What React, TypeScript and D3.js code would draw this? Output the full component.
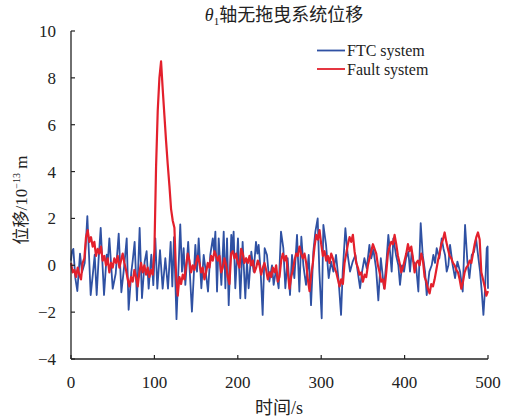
import React from 'react';
import * as d3 from 'd3';

const xTicks = [0, 100, 200, 300, 400, 500];
const yTicks = [-4, -2, 0, 2, 4, 6, 8, 10];
const seriesNames = ['FTC system', 'Fault system'];

// FTC system: [time s, displacement 1e-13 m]
const ftcSeries: [number, number][] = [
  [0, 0.2], [1.2, 0.6], [2.8, 0.7], [5.2, -0.55], [7.6, -1.1], [10.8, 0.5], [13.2, -0.3], [16.4, 0.1],
  [19.6, 2.1], [21.6, 0.45], [23.6, -1.27], [26.4, -0.3], [28.4, 0.45], [30.8, -1.27], [33, 0.2], [35.6, 1.6],
  [39.6, -1.27], [42.8, 0.45], [44.2, 0.2], [46, 1.15], [50, -1.0], [53.6, -0.35], [57.2, 1.35], [60.4, -1.15],
  [63.6, -0.1], [66.8, 1.15], [69.1, -1.9], [72.3, -0.3], [74, 0.2], [76.3, 1.0], [79.1, -1.5], [82.3, 1.6],
  [85.1, -1.4], [88.3, 0.15], [90.7, 0.6], [93.1, -1.0], [96.3, 0.45], [98.7, -0.85], [101.1, 1.15], [103.5, -1.0],
  [106.7, 0.65], [109.9, -1.0], [113.1, 0.3], [116.3, -1.0], [119.5, 1.0], [121.5, -0.9], [123.5, 1.2], [126.5, -2.3],
  [131, 1.75], [133.1, -0.27], [135.1, 0.73], [137.1, -0.84], [140.5, 1.0], [145, -1.98], [149.1, 0.87], [151.1, -0.27],
  [153.1, 1.15], [156.3, -0.98], [159.1, 0.44], [161.1, -0.13], [164.3, -1.12], [167, 0.44], [170, 1.15], [171.5, 0.6],
  [173.1, 1.44], [175.1, -1.12], [177.1, 1.15], [180.3, -0.84], [183.1, 1.44], [185.1, -0.98], [187.1, 1.15], [189.1, -1.7],
  [192.2, 1.3], [193.6, 0.6], [195, 1.44], [197, -0.98], [200.2, 1.15], [203, -1.41], [205.8, 1.0], [209, -1.41],
  [211, 0.16], [213, -0.98], [216.2, 0.58], [219, -0.27], [221.8, 1.0], [223.5, 0.5], [225, 0.87], [227.4, -0.27],
  [229.8, -2.12], [232.2, 0.73], [235, 0.44], [237.8, -0.7], [241, 0.0], [243, -0.84], [245.8, -0.2], [249, -0.98],
  [251.8, 1.44], [254.6, 0.73], [257, -0.98], [259.8, 0.3], [262.6, -1.27], [265, 0.44], [267.8, -0.55], [271, 1.3],
  [273.8, -1.12], [276.2, 1.22], [278.6, 0.0], [281.8, -0.84], [285, 0.44], [287.8, -1.7], [290.6, 0.58], [293, 1.44],
  [295.8, 2.0], [297.8, -0.27], [300.6, -2.26], [302.6, 1.72], [305.8, 0.87], [309, -0.55], [311.8, 0.16], [314.6, -0.27],
  [317.8, 0.44], [321, -0.7], [323.8, -2.12], [325.8, -0.27], [329, 1.58], [331.8, 0.44], [334.6, -0.27], [337.8, 0.16],
  [341, 0.44], [343.8, -0.27], [346.6, -0.98], [349, -0.27], [351.8, 0.3], [354.6, -0.13], [357.8, 0.87], [360, 0.3],
  [362.5, 0.68], [365.8, -0.13], [368.5, -1.5], [371.5, 0.3], [375.3, -0.98], [378.5, 0.3], [380.5, 1.3], [382.5, 0.58],
  [384.5, -0.27], [386.5, 1.15], [389.7, 0.44], [392.5, 0.0], [394.5, -0.84], [396.9, 0.0], [399.3, -0.27], [401.7, 0.3],
  [404.5, 0.58], [406.5, -0.27], [408.5, 0.58], [410.5, 0.16], [413.7, 0.0], [416.5, -1.12], [419.3, 1.8], [421.7, 0.44],
  [424.5, -0.27], [426.5, -1.27], [429.7, -0.27], [432.5, 0.0], [434.5, 0.44], [436.5, 0.1], [438.5, 0.73], [441.7, 0.3],
  [444.5, 1.15], [446.5, 0.73], [448.5, 0.44], [450.5, -0.27], [452.5, 0.0], [454.5, 0.87], [457.7, 0.0], [460.5, -0.55],
  [463.3, 0.16], [466.5, -0.27], [469.7, -1.12], [472.5, 1.72], [475.3, 0.16], [477.7, -0.55], [480.5, 0.44], [483.3, 0.58],
  [485.7, 1.15], [488.5, 0.3], [490.5, -0.27], [492.5, -1.12], [494.5, -2.12], [496.5, -0.98], [498.5, 0.73], [499.5, 0.8],
  [500, -1.0],
];

// Fault system: one value every 2 s from t = 0 to 500
const faultStep = 2;
const faultValues: number[] = [
  0.1, -0.3, -0.2, -0.5, -0.1, -0.4, -0.6, 0.1, 0.3, 1.2, // 0-18
  1.5, 1.0, 1.2, 0.8, 1.0, 0.4, 0.7, 0.5, 0.8, 0.2, // 20-38
  0.4, 0.0, 0.3, -0.3, 0.1, -0.1, 0.3, 0.1, 0.4, -0.1, // 40-58
  0.2, 0.5, 0.1, -0.2, -0.6, -0.9, -0.5, -0.7, -0.2, -0.5, // 60-78
  -0.9, -0.3, 0.1, -0.3, 0.0, -0.4, -0.1, -0.5, -0.2, -0.4, // 80-98
  0.6, 4.2, 6.6, 8.0, 8.7, 7.5, 6.4, 5.3, 4.3, 3.4, // 100-118
  2.4, 1.9, 1.6, -0.4, -1.3, -0.5, -0.8, -0.4, -0.6, 0.0, // 120-138
  0.5, 0.2, -0.3, 0.0, -0.2, 0.1, 0.4, 0.1, -0.3, -0.1, // 140-158
  -0.6, -0.3, 0.1, -0.1, 0.4, 0.2, 0.6, 0.4, 0.2, 0.4, // 160-178
  -0.3, -0.1, 0.3, 0.0, -0.5, -0.8, 0.5, 0.6, 0.3, 0.5, // 180-198
  0.1, -0.1, 0.7, 0.5, 0.1, 0.3, 0.1, 0.4, 0.0, 0.2, // 200-218
  -0.3, -0.1, 0.2, 0.0, -0.4, -0.1, 0.1, -0.2, -0.6, -0.3, // 220-238
  -0.5, -0.1, -0.3, 0.0, -0.7, -0.5, 0.2, 0.5, 0.2, 0.4, // 240-258
  -0.3, -1.0, -0.5, -0.2, 0.2, 0.5, 0.4, 0.8, 0.5, 0.3, // 260-278
  0.5, 0.1, -0.6, -1.1, -0.4, 0.1, 0.8, 1.3, 1.1, 1.5, // 280-298
  0.9, 0.4, 0.6, 0.2, 0.4, 0.1, 0.5, 0.3, -0.1, -0.3, // 300-318
  -0.6, -0.9, -0.6, -0.8, 0.1, 0.5, 0.9, 1.2, 1.0, 1.3, // 320-338
  0.6, 0.1, -0.1, -0.4, -0.3, -0.7, -0.4, -0.5, 0.0, 0.3, // 340-358
  0.6, 0.9, 0.7, 0.5, 0.0, -0.3, -0.7, -0.6, -1.0, -0.3, // 360-378
  0.5, 0.8, 1.0, 0.9, 1.3, 0.9, 0.4, 0.1, -0.3, -0.1, // 380-398
  0.2, 0.5, 0.9, 0.6, 0.8, 0.3, -0.3, 0.1, 0.2, 0.0, // 400-418
  0.5, 0.2, -0.5, -0.7, -1.0, -1.2, -0.8, -0.9, -0.6, -0.2, // 420-438
  0.2, 0.5, 0.9, 1.1, 1.4, 1.0, 0.7, 0.4, 0.3, 0.1, // 440-458
  0.0, -0.2, -0.3, -0.6, -1.0, -0.7, -0.3, -0.1, 0.0, 0.2, // 460-478
  0.1, 0.5, 0.9, 1.2, 1.4, 1.1, -0.3, -0.6, -0.9, -1.3, // 480-498
  -1.1, // 500
];

const BLUE = '#2f51a3';
const RED = '#e3202c';
const SERIF = '"Liberation Serif", "Times New Roman", serif';
const CJK = '"Noto Sans CJK SC", sans-serif';

export default function App() {
  const W = 505;
  const H = 420;
  const x = d3.scaleLinear().domain([0, 500]).range([71, 488]);
  const y = d3.scaleLinear().domain([-4, 10]).range([359, 31]);
  const line = d3.line<[number, number]>().x(d => x(d[0])).y(d => y(d[1]));
  const faultSeries: [number, number][] = faultValues.map((v, i) => [i * faultStep, v]);
  const x0 = x.range()[0];
  const x1 = x.range()[1];
  const yb = y.range()[0];
  const yt = y.range()[1];

  return (
    <svg width={W} height={H} style={{ position: 'absolute', left: 0, top: 0, background: '#fff' }}>
      <rect x={0} y={0} width={W} height={H} fill="#fff" />
      {/* title */}
      <text x={284} y={21} textAnchor="middle" fontSize={18} fill="#222">
        <tspan fontFamily={SERIF} fontStyle="italic">θ</tspan>
        <tspan fontFamily={SERIF} fontSize={11} dy={4}>1</tspan>
        <tspan fontFamily={CJK} dy={-4}>轴无拖曳系统位移</tspan>
      </text>

      {/* data */}
      <path d={line(ftcSeries) || ''} fill="none" stroke={BLUE} strokeWidth={1.8} strokeLinejoin="round" />
      <path d={line(faultSeries) || ''} fill="none" stroke={RED} strokeWidth={2.2} strokeLinejoin="round" />

      {/* axes */}
      <line x1={x0} x2={x0} y1={yt} y2={yb} stroke="#222" strokeWidth={1.3} />
      <line x1={x0} x2={x1} y1={yb} y2={yb} stroke="#222" strokeWidth={1.3} />
      {yTicks.map(t => (
        <g key={'y' + t}>
          <line x1={x0} x2={x0 + 4} y1={y(t)} y2={y(t)} stroke="#222" strokeWidth={1.2} />
          <text x={x0 - 15} y={y(t)} dy="0.35em" textAnchor="end" fontFamily={SERIF} fontSize={17} fill="#222">
            {t < 0 ? '\u2212' + Math.abs(t) : String(t)}
          </text>
        </g>
      ))}
      {xTicks.map(t => (
        <g key={'x' + t}>
          <line x1={x(t)} x2={x(t)} y1={yb} y2={yb - 4} stroke="#222" strokeWidth={1.2} />
          <text x={x(t)} y={388} textAnchor="middle" fontFamily={SERIF} fontSize={17} fill="#222">
            {String(t)}
          </text>
        </g>
      ))}

      {/* axis labels */}
      <text x={279} y={414} textAnchor="middle" fontSize={18} fill="#222">
        <tspan fontFamily={CJK}>时间</tspan>
        <tspan fontFamily={SERIF}>/s</tspan>
      </text>
      <text transform="translate(27,200) rotate(-90)" textAnchor="middle" fontSize={17} fill="#222">
        <tspan fontFamily={CJK}>位移</tspan>
        <tspan fontFamily={SERIF}>/10</tspan>
        <tspan fontFamily={SERIF} fontSize={10} dy={-7}>{'\u221213'}</tspan>
        <tspan fontFamily={SERIF} dy={7}>{' m'}</tspan>
      </text>

      {/* legend */}
      {seriesNames.map((name, i) => (
        <g key={name}>
          <line x1={317} x2={345} y1={50.5 + i * 18.5} y2={50.5 + i * 18.5} stroke={i === 0 ? BLUE : RED} strokeWidth={1.8} />
          <text x={347} y={56 + i * 18.5} fontFamily={SERIF} fontSize={16} fill="#222">{name}</text>
        </g>
      ))}
    </svg>
  );
}
